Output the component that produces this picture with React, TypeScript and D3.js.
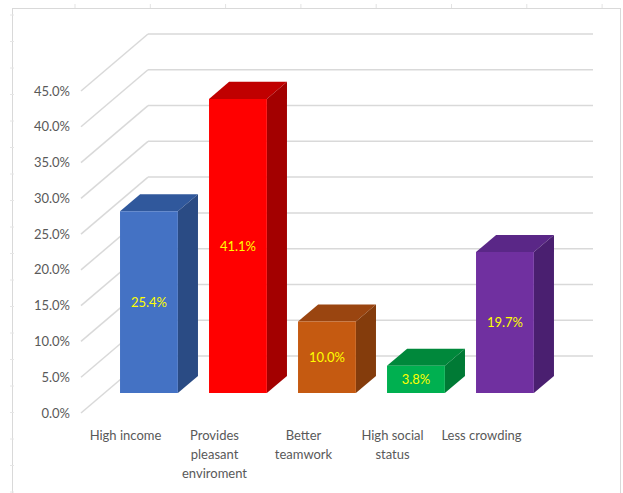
import React, { useEffect, useRef } from 'react';
import * as d3 from 'd3';

// data
const categories = ['High income', 'Provides pleasant enviroment', 'Better teamwork', 'High social status', 'Less crowding'];
const categoryLines = [['High income'], ['Provides', 'pleasant', 'enviroment'], ['Better', 'teamwork'], ['High social', 'status'], ['Less crowding']];
const values = [25.4, 41.1, 10.0, 3.8, 19.7];
const yTicks = [0, 5, 10, 15, 20, 25, 30, 35, 40, 45];

// bar colours: front face, top face, right side
const FRONT = ['#4472C4', '#FF0000', '#C55A11', '#00B050', '#7030A0'];
const TOP = ['#30589C', '#C00000', '#9A4510', '#00883B', '#5A2787'];
const SIDE = ['#2A4B84', '#A30000', '#843C0C', '#007A35', '#4A1F70'];

const W = 623;
const H = 493;
const FONT = 'Lato, "Open Sans", sans-serif';
const TEXT = '#595959';
const GRID = '#d9d9d9';

// 3d look: depth vector of the floor / side wall
const DX = 67;
const DY = -57;
const D0 = 0.35; // bars sit in the middle of the depth
const D1 = 0.65;

const App = () => {
  const svgRef = useRef<SVGSVGElement>(null);

  useEffect(() => {
    document.body.style.margin = '0';
    const svg = d3.select(svgRef.current);
    svg.selectAll('*').remove();

    const y = d3.scaleLinear().domain([0, 45]).range([413, 91]);
    const x = d3.scaleBand<string>().domain(categories).range([81, 526]).paddingInner(0).paddingOuter(0);
    const barW = x.bandwidth() * 0.65;

    const pt = (px: number, v: number, d: number) => [px + d * DX, y(v) + d * DY];
    const poly = (pts: number[][]) => pts.map(p => p.join(',')).join(' ');

    // frame of the screenshot
    svg.append('rect')
      .attr('x', 12.5).attr('y', 8.5)
      .attr('width', 608).attr('height', 500)
      .attr('fill', '#fff')
      .attr('stroke', GRID)
      .attr('stroke-width', 1);

    // faint ruler ticks round the frame
    svg.append('g')
      .selectAll('line')
      .data(d3.range(75, W, 75.3))
      .join('line')
      .attr('x1', d => d).attr('x2', d => d)
      .attr('y1', 4).attr('y2', 8)
      .attr('stroke', '#e3e3e3');
    svg.append('g')
      .selectAll('line')
      .data(d3.range(15, H, 26.5))
      .join('line')
      .attr('x1', 10).attr('x2', 14)
      .attr('y1', d => d).attr('y2', d => d)
      .attr('stroke', '#e6e6e6');

    // back wall gridlines and side wall diagonals
    const grid = svg.append('g').attr('stroke', GRID).attr('stroke-width', 1.5).attr('fill', 'none');
    yTicks.forEach(t => {
      const [bx, by] = pt(81, t, 1);
      const [ex] = pt(526, t, 1);
      grid.append('line').attr('x1', bx).attr('y1', by).attr('x2', ex).attr('y2', by);
      grid.append('line').attr('x1', 81).attr('y1', y(t)).attr('x2', bx).attr('y2', by);
    });

    // y labels
    svg.append('g')
      .selectAll('text')
      .data(yTicks)
      .join('text')
      .attr('x', 70)
      .attr('y', d => y(d))
      .attr('dy', '0.35em')
      .attr('text-anchor', 'end')
      .attr('font-family', FONT)
      .attr('font-size', 13)
      .attr('fill', TEXT)
      .text(d => d.toFixed(1) + '%');

    // bars
    categories.forEach((c, i) => {
      const v = values[i];
      const x0 = (x(c) as number) + (x.bandwidth() - barW) / 2;
      const x1 = x0 + barW;
      const g = svg.append('g');

      g.append('polygon')
        .attr('points', poly([pt(x0, v, D0), pt(x1, v, D0), pt(x1, v, D1), pt(x0, v, D1)]))
        .attr('fill', TOP[i]);
      g.append('polygon')
        .attr('points', poly([pt(x1, 0, D0), pt(x1, 0, D1), pt(x1, v, D1), pt(x1, v, D0)]))
        .attr('fill', SIDE[i]);
      g.append('polygon')
        .attr('points', poly([pt(x0, 0, D0), pt(x1, 0, D0), pt(x1, v, D0), pt(x0, v, D0)]))
        .attr('fill', FRONT[i]);

      const [cx, cy] = pt((x0 + x1) / 2, v / 2, D0);
      g.append('text')
        .attr('x', cx)
        .attr('y', cy)
        .attr('dy', '0.35em')
        .attr('text-anchor', 'middle')
        .attr('font-family', FONT)
        .attr('font-size', 13)
        .attr('fill', '#FFFF00')
        .text(v.toFixed(1) + '%');
    });

    // category labels
    const xl = svg.append('g')
      .attr('font-family', FONT)
      .attr('font-size', 13)
      .attr('fill', TEXT)
      .attr('text-anchor', 'middle');
    categories.forEach((c, i) => {
      const t = xl.append('text')
        .attr('x', (x(c) as number) + x.bandwidth() / 2)
        .attr('y', 440);
      categoryLines[i].forEach((line, k) => {
        t.append('tspan')
          .attr('x', (x(c) as number) + x.bandwidth() / 2)
          .attr('dy', k === 0 ? 0 : 19)
          .text(line);
      });
    });
  }, []);

  return (
    <svg
      ref={svgRef}
      width={W}
      height={H}
      style={{ position: 'absolute', left: 0, top: 0, background: '#fff' }}
    />
  );
};

export default App;
